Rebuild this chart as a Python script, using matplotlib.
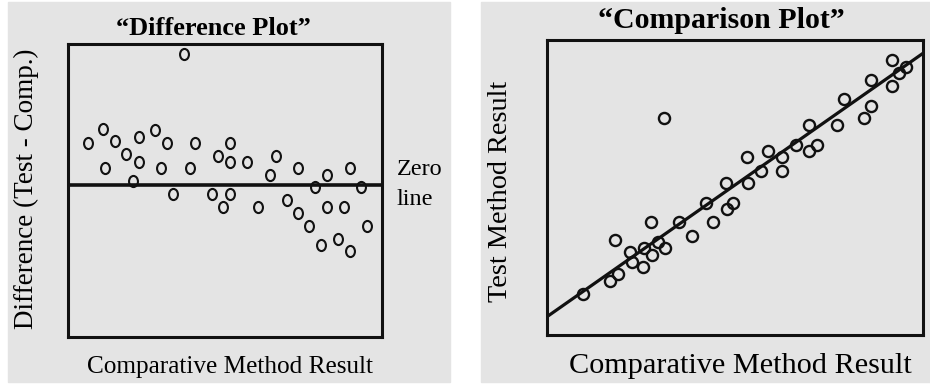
import numpy as np
import matplotlib
matplotlib.use("Agg")
import matplotlib.pyplot as plt
from matplotlib.path import Path
from matplotlib.patches import Rectangle

# Difference plot: comparative result vs. (test - comp.)
diff_x = [36.9, 6.3, 11.2, 15.0, 11.8, 18.5, 22.6, 22.6, 20.8, 27.8, 31.4, 29.7,
          33.3, 40.5, 38.8, 47.8, 51.5, 51.5, 46.0, 51.5, 49.5, 56.9, 60.6, 66.1,
          64.2, 69.6, 73.2, 73.2, 76.8, 78.8, 80.7, 82.4, 82.4, 86.1, 87.9, 89.8,
          89.7, 93.4, 95.2]
diff_y = [13.1, 4.2, 5.6, 4.4, 1.7, 3.1, 4.8, 2.3, 0.4, 5.5, 4.2, 1.7,
          -0.9, 4.2, 1.7, 2.9, 4.2, 2.3, -0.9, -0.9, -2.2, 2.3, -2.2, 2.9,
          1.0, -1.5, 1.7, -2.8, -4.1, -0.2, -6.0, 1.0, -2.2, -5.4, -2.2, 1.7,
          -6.6, -0.2, -4.1]

# Comparison plot: comparative result vs. test result
comp_x = [9.6, 16.8, 19.0, 18.2, 22.0, 22.6, 25.7, 25.5, 27.9, 27.7, 29.4, 31.5,
          31.2, 35.0, 38.6, 42.3, 44.1, 47.7, 47.9, 49.6, 53.2, 53.4, 57.0, 58.8,
          62.5, 62.5, 66.1, 69.8, 69.8, 71.7, 77.1, 78.9, 84.4, 86.3, 86.3, 91.8,
          91.8, 93.7, 95.6]
comp_y = [13.9, 18.3, 20.6, 32.2, 28.0, 24.8, 29.4, 23.2, 27.1, 38.2, 31.6, 29.4,
          73.5, 38.4, 33.7, 44.8, 38.2, 51.4, 42.6, 44.8, 60.2, 51.4, 55.7, 62.4,
          60.2, 55.7, 64.5, 71.2, 62.4, 64.5, 71.2, 79.9, 73.5, 77.7, 86.4, 93.2,
          84.4, 88.7, 90.9]
fit_intercept = 6.2
fit_slope = 0.893

W, H = 930, 384
BG = "#e4e4e4"
SERIF = ["Liberation Serif", "DejaVu Serif"]


def fx(x):
    return x / W


def fy(y):
    return 1 - y / H


fig = plt.figure(figsize=(W / 100, H / 100), dpi=100, facecolor="white")

# gray panel backgrounds (behind the axes)
fig.patches.append(Rectangle((fx(8), fy(382)), (450 - 8) / W, 380 / H,
                             transform=fig.transFigure, color=BG, zorder=-5))
fig.patches.append(Rectangle((fx(481), fy(382)), (930 - 481) / W, 380 / H,
                             transform=fig.transFigure, color=BG, zorder=-5))

# "O"-shaped marker: slightly narrower than tall
ellipse = Path.unit_circle().transformed(matplotlib.transforms.Affine2D().scale(0.8, 1.0))

# --- left: difference plot ---
ax1 = fig.add_axes([fx(68), fy(337), 314 / W, 293 / H])
ax1.set_facecolor(BG)
ax1.plot(diff_x, diff_y, linestyle="none", marker=ellipse, ms=8.0,
         mfc="none", mec="#111111", mew=1.5)
ax1.axhline(0, color="#111111", lw=2.6)
ax1.set_xlim(0, 100)
ax1.set_ylim(-15.2, 14.1)

# --- right: comparison plot ---
ax2 = fig.add_axes([fx(547), fy(335), 376 / W, 295 / H])
ax2.set_facecolor(BG)
ax2.plot(comp_x, comp_y, linestyle="none", marker="o", ms=8.0,
         mfc="none", mec="#111111", mew=1.7)
xx = np.array([0, 100])
ax2.plot(xx, fit_intercept + fit_slope * xx, color="#111111", lw=2.3)
ax2.set_xlim(0, 100)
ax2.set_ylim(0, 100)

for ax in (ax1, ax2):
    ax.set_xticks([])
    ax.set_yticks([])
    for s in ax.spines.values():
        s.set_linewidth(2.2)
        s.set_color("#111111")

# titles and labels
fig.text(fx(213.5), fy(35), "\u201cDifference Plot\u201d", family=SERIF,
         weight="bold", fontsize=19, ha="center", va="baseline")
fig.text(fx(721), fy(28), "\u201cComparison Plot\u201d", family=SERIF,
         weight="bold", fontsize=21.5, ha="center", va="baseline")
fig.text(fx(230), fy(373), "Comparative Method Result", family=SERIF,
         fontsize=18.2, ha="center", va="baseline")
fig.text(fx(740.5), fy(373), "Comparative Method Result", family=SERIF,
         fontsize=21.8, ha="center", va="baseline")
fig.text(fx(33), fy(189), "Difference (Test - Comp.)", family=SERIF,
         fontsize=19.5, rotation=90, rotation_mode="anchor",
         ha="center", va="baseline")
fig.text(fx(507), fy(191), "Test Method Result", family=SERIF,
         fontsize=20.3, rotation=90, rotation_mode="anchor",
         ha="center", va="baseline")
fig.text(fx(397), fy(175), "Zero", family=SERIF, fontsize=17.5, va="baseline")
fig.text(fx(397), fy(205), "line", family=SERIF, fontsize=17.5, va="baseline")

fig.savefig("out.png", dpi=100, facecolor="white")
